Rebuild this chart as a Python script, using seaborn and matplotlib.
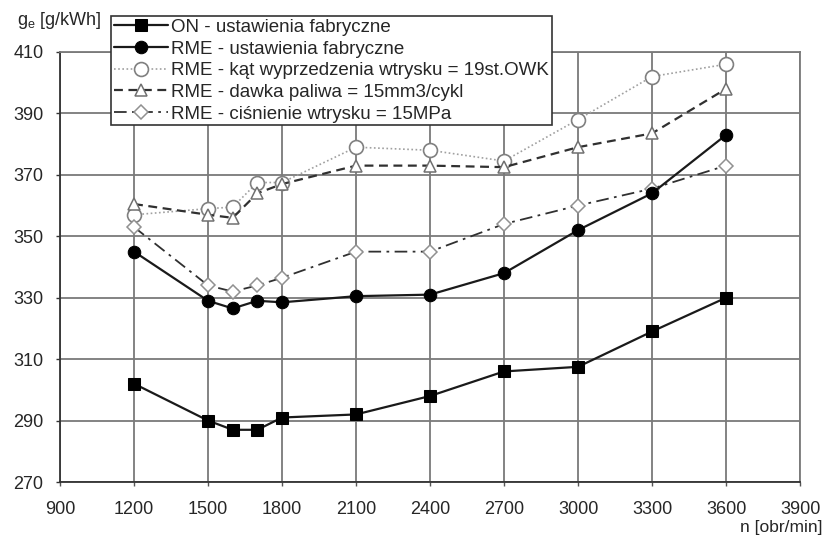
import numpy as np
import pandas as pd
import seaborn as sns
import matplotlib.pyplot as plt

# engine speed [obr/min]
n = [1200, 1500, 1600, 1700, 1800, 2100, 2400, 2700, 3000, 3300, 3600]

# specific fuel consumption [g/kWh]
on_fabr = [302, 290, 287, 287, 291, 292, 298, 306, 307.5, 319, 330]
rme_fabr = [345, 329, 326.5, 329, 328.5, 330.5, 331, 338, 352, 364, 383]
rme_kat = [357, 359, 359.5, 367.5, 367.5, 379, 378, 374.5, 388, 402, 406]
rme_dawka = [360.5, 357, 356, 364, 367, 373, 373, 372.5, 379, 383.5, 398]
rme_cisn = [353, 334, 332, 334, 336.5, 345, 345, 354, 360, 365.5, 373]

labels = ["ON - ustawienia fabryczne",
          "RME - ustawienia fabryczne",
          "RME - kąt wyprzedzenia wtrysku = 19st.OWK",
          "RME - dawka paliwa = 15mm3/cykl",
          "RME - ciśnienie wtrysku = 15MPa"]

xticks = np.arange(900, 3901, 300)
yticks = np.arange(270, 411, 20)

sns.set_style("white")
plt.rcParams['font.family'] = ['Liberation Sans', 'DejaVu Sans']

fig = plt.figure(figsize=(8.27, 5.47), dpi=100)
ax = fig.add_axes([0.0726, 0.1188, 0.8948, 0.7862])

df = pd.DataFrame({"n": n, "on": on_fabr, "rme": rme_fabr, "kat": rme_kat,
                   "dawka": rme_dawka, "cisn": rme_cisn})

sns.lineplot(data=df, x="n", y="kat", ax=ax, color="#a0a0a0", lw=1.2, ls=(0, (1, 1.5)),
             marker="o", ms=10, mfc="white", mec="#808080", mew=1.2, label=labels[2], zorder=3)
sns.lineplot(data=df, x="n", y="dawka", ax=ax, color="#303030", lw=1.6, ls=(0, (4, 2.5)),
             marker="^", ms=9, mfc="white", mec="#707070", mew=1.1, label=labels[3], zorder=4)
sns.lineplot(data=df, x="n", y="cisn", ax=ax, color="#303030", lw=1.3, ls=(0, (7, 3, 1.5, 3)),
             marker="D", ms=7, mfc="white", mec="#909090", mew=1.1, label=labels[4], zorder=4)
sns.lineplot(data=df, x="n", y="rme", ax=ax, color="#1a1a1a", lw=1.6, ls="-",
             marker="o", ms=9, mfc="black", mec="black", label=labels[1], zorder=5)
sns.lineplot(data=df, x="n", y="on", ax=ax, color="#1a1a1a", lw=1.6, ls="-",
             marker="s", ms=9, mfc="black", mec="black", label=labels[0], zorder=5)

ax.set_xlim(900, 3900)
ax.set_ylim(270, 410)
ax.set_xticks(xticks)
ax.set_yticks(yticks)
ax.grid(True, color="#7a7a7a", lw=1.3)
for s in ax.spines.values():
    s.set_color("#7a7a7a")
    s.set_linewidth(1.3)
ax.spines["left"].set_color("#333333")
ax.spines["bottom"].set_color("#333333")
ax.tick_params(axis="y", left=True, length=3, width=1, color="#333333", labelsize=13, pad=9)
ax.tick_params(axis="x", bottom=True, length=3, width=1, color="#555555", labelsize=13, pad=11)
ax.set_xlabel("")
ax.set_ylabel("")

fig.text(0.02, 0.962, "g$_\\mathregular{e}$ [g/kWh]", fontsize=13, ha="left", va="center")
fig.text(0.995, 0.036, "n [obr/min]", fontsize=12.5, ha="right", va="center")

handles, labs = ax.get_legend_handles_labels()
order = [labs.index(l) for l in labels]
leg = ax.legend([handles[i] for i in order], [labs[i] for i in order],
                loc="upper left", bbox_to_anchor=(0.134, 0.971), bbox_transform=fig.transFigure,
                frameon=True, fancybox=False, framealpha=1, edgecolor="#333333",
                fontsize=13.5, handlelength=2.9, handletextpad=0.15, borderpad=0.15,
                labelspacing=0.245, borderaxespad=0)
leg.get_frame().set_linewidth(1.2)
leg.set_zorder(10)

fig.savefig("out.png", dpi=100)
